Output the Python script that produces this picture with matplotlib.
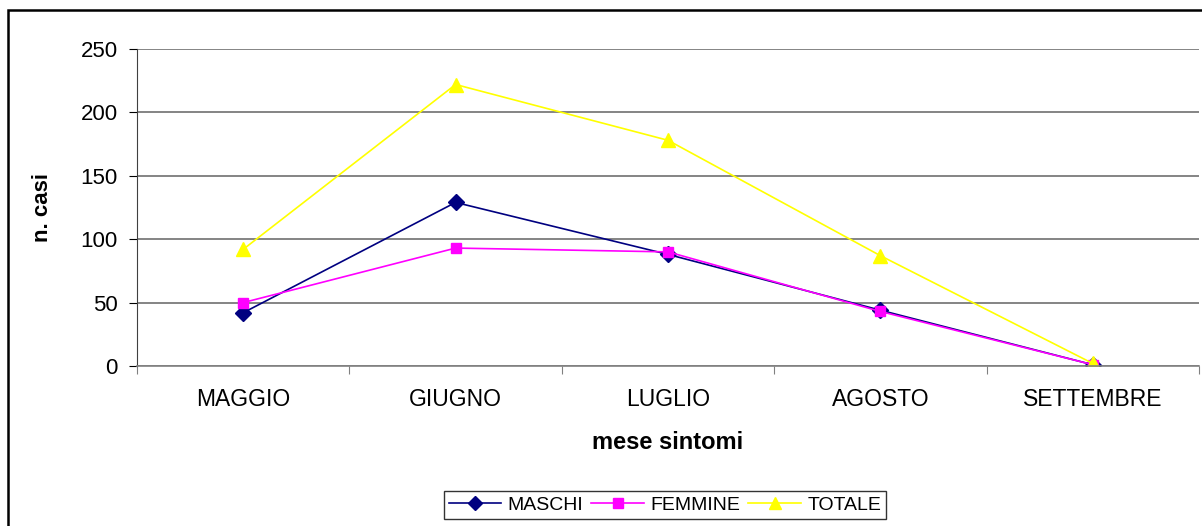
import matplotlib
matplotlib.use("Agg")

import matplotlib.pyplot as plt
from matplotlib.patches import Rectangle

# Data.
months = ["MAGGIO", "GIUGNO", "LUGLIO", "AGOSTO", "SETTEMBRE"]
maschi = [42, 129, 88, 44, 1]
femmine = [50, 93, 90, 43, 1]
totale = [92, 222, 178, 87, 2]
y_ticks = [0, 50, 100, 150, 200, 250]

plt.rcParams["font.family"] = ["Liberation Sans", "DejaVu Sans"]


def main():
    fig = plt.figure(figsize=(12.02, 5.26), dpi=100)
    ax = fig.add_axes([137 / 1202, 1 - 366 / 526, 1062 / 1202, 317 / 526])

    x = list(range(len(months)))
    ax.plot(x, maschi, color="#000080", lw=1.2, marker="D", ms=8, label="MASCHI")
    ax.plot(x, femmine, color="#FF00FF", lw=1.2, marker="s", ms=7.5, label="FEMMINE")
    ax.plot(x, totale, color="#FFFF00", lw=1.2, marker="^", ms=10, label="TOTALE")

    ax.set_xlim(-0.5, len(months) - 0.5)
    ax.set_ylim(0, 250)
    ax.set_yticks(y_ticks)
    ax.yaxis.grid(True, color="#707070", lw=1.2)
    ax.set_axisbelow(True)

    # category labels at centres, tick marks between categories
    ax.set_xticks([i + 0.5 for i in range(-1, len(months))])
    ax.set_xticklabels([])
    ax.set_xticks(x, minor=True)
    ax.set_xticklabels(months, minor=True, fontsize=16.5)
    ax.tick_params(axis="x", which="major", direction="out", length=6, color="#808080")
    ax.tick_params(axis="x", which="minor", length=0, pad=16)
    ax.tick_params(axis="y", direction="out", length=6, labelsize=16, pad=8)

    for side in ("top", "right"):
        ax.spines[side].set_visible(False)
    ax.spines["left"].set_color("#404040")
    ax.spines["bottom"].set_color("#808080")
    ax.spines["bottom"].set_linewidth(1.2)

    ax.set_xlabel("mese sintomi", fontsize=17, fontweight="bold", labelpad=14)
    ax.set_ylabel("n. casi", fontsize=16, fontweight="bold", labelpad=20)

    leg = ax.legend(loc="center", bbox_to_anchor=(665 / 1202, 1 - 505 / 526),
                    bbox_transform=fig.transFigure, ncol=3, fontsize=14,
                    frameon=True, fancybox=False, edgecolor="black",
                    handlelength=2.7, handletextpad=0.35, columnspacing=0.4,
                    borderpad=0.25, borderaxespad=0, markerscale=0.9)
    leg.get_frame().set_linewidth(1.0)

    # outer chart border
    fig.patches.append(Rectangle((8 / 1202, -0.01), 1.02, 1 - 10 / 526 + 0.01,
                                 transform=fig.transFigure, fill=False,
                                 edgecolor="black", lw=1.8))

    fig.savefig("out.png", dpi=100)


if __name__ == "__main__":
    main()
